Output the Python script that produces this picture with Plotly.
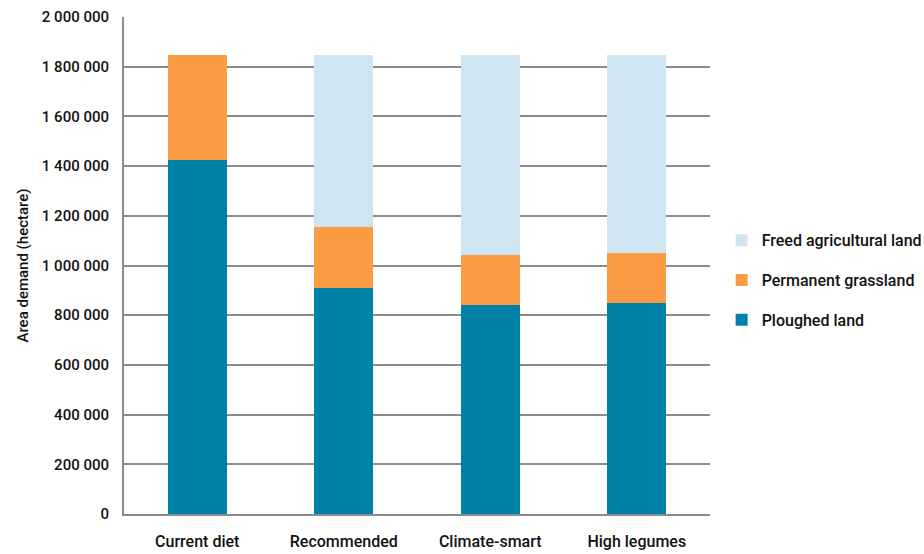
import plotly.graph_objects as go

categories = ["Current diet", "Recommended", "Climate-smart", "High legumes"]
ploughed = [1424000, 908000, 843000, 850000]
grassland = [422000, 246000, 201000, 202000]
freed = [0, 692000, 802000, 794000]
tick_vals = [0, 200000, 400000, 600000, 800000, 1000000, 1200000, 1400000, 1600000, 1800000, 2000000]
tick_text = ["0", "200 000", "400 000", "600 000", "800 000", "1 000 000", "1 200 000",
             "1 400 000", "1 600 000", "1 800 000", "2 000 000"]

FONT = "Roboto, Liberation Sans, sans-serif"
TXT = "#111111"

fig = go.Figure()
fig.add_trace(go.Bar(x=categories, y=ploughed, name="Ploughed land", legendgroup="a", legendrank=3,
                     marker=dict(color="#0081A7", line=dict(width=0))))
fig.add_trace(go.Bar(x=categories, y=grassland, name="Permanent grassland", legendgroup="b", legendrank=2,
                     marker=dict(color="#FB9B43", line=dict(width=0))))
fig.add_trace(go.Bar(x=categories, y=freed, name="Freed agricultural land", legendgroup="c", legendrank=1,
                     marker=dict(color="#CFE5F2", line=dict(width=0))))

fig.update_layout(
    barmode="stack",
    bargap=0.6,
    width=924, height=554,
    margin=dict(l=124, r=214, t=17, b=40),
    paper_bgcolor="white", plot_bgcolor="white",
    font=dict(family=FONT, size=15, color=TXT, weight=500),
    legend=dict(traceorder="grouped", xref="container", yref="container",
                x=0.781, y=0.494, xanchor="left", yanchor="middle",
                font=dict(family=FONT, size=16, color=TXT, weight=500),
                itemsizing="constant", tracegroupgap=16, bgcolor="rgba(0,0,0,0)",
                itemwidth=30, borderwidth=0),
    xaxis=dict(showline=True, linecolor="#8c8c8c", linewidth=2, ticks="",
               automargin=False,
               tickfont=dict(family=FONT, size=16, color=TXT, weight=500),
               ticklabelstandoff=12, showgrid=False),
    yaxis=dict(range=[0, 2000000], tickvals=tick_vals, ticktext=tick_text,
               automargin=False,
               showline=True, linecolor="#8c8c8c", linewidth=2,
               showgrid=True, gridcolor="#8c8c8c", gridwidth=1.5,
               zeroline=False, ticks="", ticklabelstandoff=10,
               tickfont=dict(family=FONT, size=15, color=TXT, weight=500),
               title=dict(text="Area demand (hectare)", standoff=10,
                          font=dict(family=FONT, size=15, color=TXT, weight=500))),
)

fig.write_html("out.html", config={"displayModeBar": False},
               post_script="document.body.style.margin='0';")
